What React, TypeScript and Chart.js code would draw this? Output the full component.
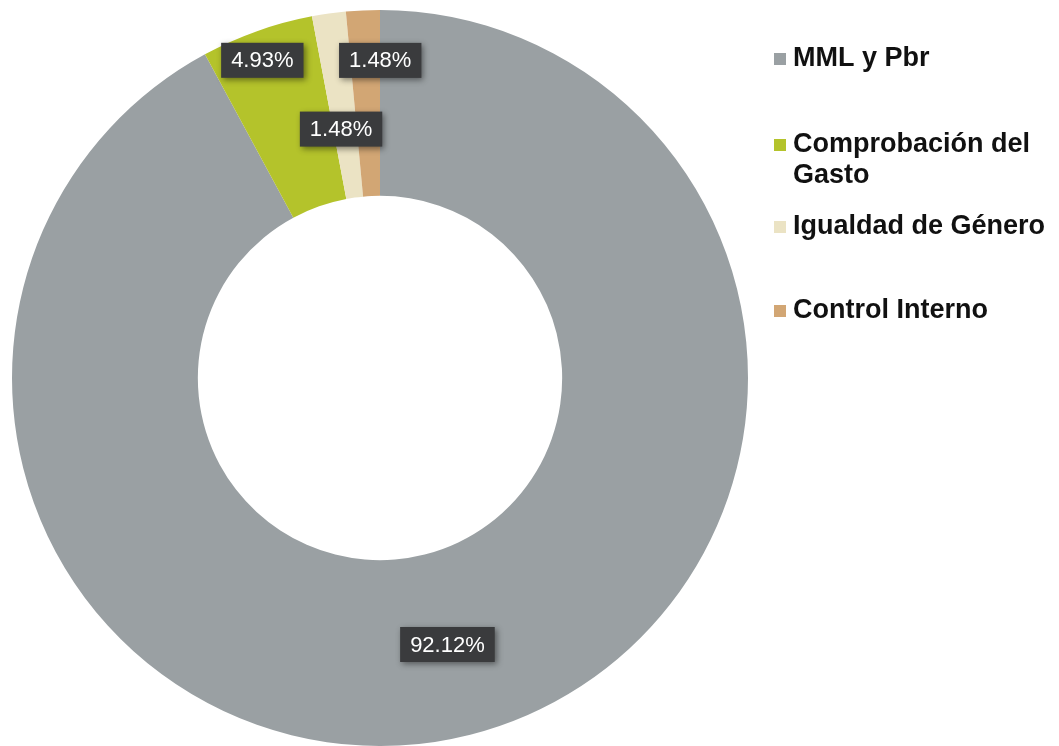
import React, { useEffect, useRef } from 'react';
import { Chart, registerables } from 'chart.js';

Chart.register(...registerables);

const categories = ['MML y Pbr', 'Comprobación del Gasto', 'Igualdad de Género', 'Control Interno'];
const shares = [92.12, 4.93, 1.48, 1.48];
const sliceColors = ['#9aa0a3', '#b4c32b', '#ebe3c4', '#d2a674'];

// label placement: radial fraction of outer radius and small horizontal nudge
const labelRadius = [0.747, 0.916, 0.683, 0.864];
const labelNudge = [0, -5, -4, 15];

// legend layout
const legendX = 774;
const legendBaselines = [66, 152, 234, 318];
const legendLineHeight = 31;

const valueLabelPlugin = {
  id: 'valueLabels',
  afterDatasetsDraw(chart: any) {
    const ctx = chart.ctx;
    const meta = chart.getDatasetMeta(0);
    const data = chart.data.datasets[0].data;
    meta.data.forEach((arc: any, i: number) => {
      const p = arc.getProps(['x', 'y', 'startAngle', 'endAngle', 'outerRadius'], true);
      const mid = (p.startAngle + p.endAngle) / 2;
      const r = p.outerRadius * labelRadius[i];
      const cx = p.x + Math.cos(mid) * r + labelNudge[i];
      const cy = p.y + Math.sin(mid) * r;
      const text = Number(data[i]).toFixed(2) + '%';
      ctx.save();
      ctx.font = '22px "Liberation Sans", Arial, sans-serif';
      const w = ctx.measureText(text).width + 20;
      const h = 35;
      ctx.shadowColor = 'rgba(0,0,0,0.45)';
      ctx.shadowBlur = 6;
      ctx.shadowOffsetX = 2;
      ctx.shadowOffsetY = 2;
      ctx.fillStyle = '#3a3b3d';
      ctx.fillRect(cx - w / 2, cy - h / 2, w, h);
      ctx.shadowColor = 'transparent';
      ctx.fillStyle = '#ffffff';
      ctx.textAlign = 'center';
      ctx.textBaseline = 'middle';
      ctx.fillText(text, cx, cy + 1);
      ctx.restore();
    });
  },
};

const legendPlugin = {
  id: 'sideLegend',
  afterDraw(chart: any) {
    const ctx = chart.ctx;
    const labels = chart.data.labels as string[];
    const colors = chart.data.datasets[0].backgroundColor as string[];
    ctx.save();
    ctx.font = 'bold 27px "Liberation Sans", Arial, sans-serif';
    ctx.textBaseline = 'alphabetic';
    ctx.textAlign = 'left';
    const maxW = 1059 - (legendX + 19) - 2;
    labels.forEach((lab, i) => {
      const base = legendBaselines[i];
      ctx.fillStyle = colors[i];
      ctx.fillRect(legendX, base - 13, 12, 12);
      const words = lab.split(' ');
      const lines: string[] = [];
      let cur = '';
      words.forEach((wd) => {
        const test = cur ? cur + ' ' + wd : wd;
        if (ctx.measureText(test).width > maxW && cur) {
          lines.push(cur);
          cur = wd;
        } else {
          cur = test;
        }
      });
      if (cur) lines.push(cur);
      ctx.fillStyle = '#111111';
      lines.forEach((ln, j) => {
        ctx.fillText(ln, legendX + 19, base + j * legendLineHeight);
      });
    });
    ctx.restore();
  },
};

export default function App() {
  const ref = useRef<HTMLCanvasElement | null>(null);
  useEffect(() => {
    if (!ref.current) return;
    const chart = new Chart(ref.current, {
      type: 'doughnut',
      data: {
        labels: categories,
        datasets: [
          {
            data: shares,
            backgroundColor: sliceColors,
            borderWidth: 0,
          },
        ],
      },
      options: {
        animation: false,
        responsive: false,
        cutout: '49.5%',
        layout: { padding: { left: 12, right: 311, top: 10, bottom: 0 } },
        plugins: {
          legend: { display: false },
          tooltip: { enabled: false },
        },
      },
      plugins: [valueLabelPlugin, legendPlugin],
    });
    return () => chart.destroy();
  }, []);
  return (
    <div style={{ position: 'fixed', left: 0, top: 0, width: 1059, height: 746, background: '#ffffff' }}>
      <canvas ref={ref} width={1059} height={746} style={{ display: 'block' }} />
    </div>
  );
}
